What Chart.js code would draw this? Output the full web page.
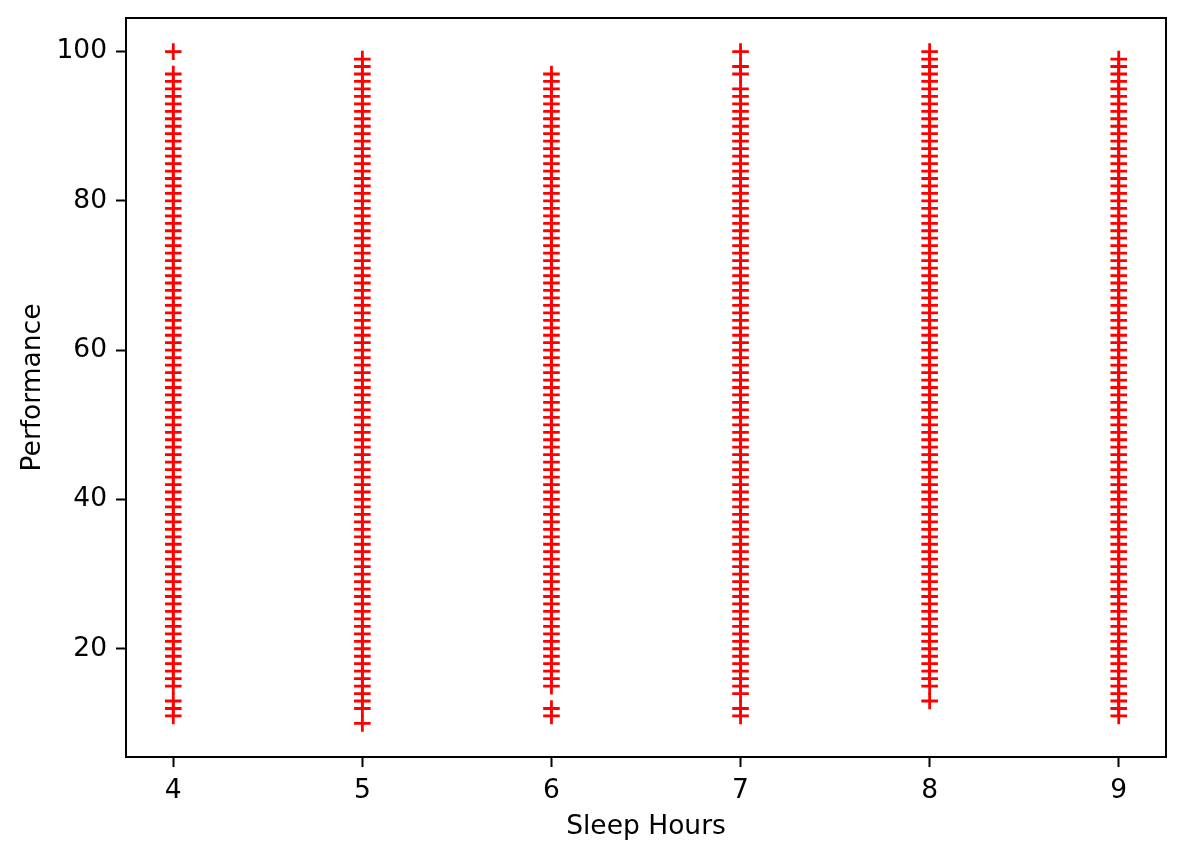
<!DOCTYPE html>
<html>
<head>
<meta charset="utf-8">
<script src="https://cdn.jsdelivr.net/npm/chart.js@4"></script>
<style>
  html, body { margin: 0; padding: 0; background: #fff; }
  #wrap { width: 1186px; height: 858px; }
</style>
</head>
<body>
<div id="wrap"><canvas id="chart" width="1186" height="858"></canvas></div>
<script>
// sleep hours on the x axis, one column of performance scores for each
const sleepHours = [4, 5, 6, 7, 8, 9];
const xTicks = [4, 5, 6, 7, 8, 9];
const yTicks = [20, 40, 60, 80, 100];

const perf4 = [11, 12, 13, 15, 16, 17, 18, 19, 20, 21, 22, 23, 24, 25, 26, 27, 28, 29, 30, 31, 32, 33, 34, 35, 36, 37, 38, 39, 40, 41, 42, 43, 44, 45, 46, 47, 48, 49, 50, 51, 52, 53, 54, 55, 56, 57, 58, 59, 60, 61, 62, 63, 64, 65, 66, 67, 68, 69, 70, 71, 72, 73, 74, 75, 76, 77, 78, 79, 80, 81, 82, 83, 84, 85, 86, 87, 88, 89, 90, 91, 92, 93, 94, 95, 96, 97, 100];
const perf5 = [10, 12, 13, 14, 15, 16, 17, 18, 19, 20, 21, 22, 23, 24, 25, 26, 27, 28, 29, 30, 31, 32, 33, 34, 35, 36, 37, 38, 39, 40, 41, 42, 43, 44, 45, 46, 47, 48, 49, 50, 51, 52, 53, 54, 55, 56, 57, 58, 59, 60, 61, 62, 63, 64, 65, 66, 67, 68, 69, 70, 71, 72, 73, 74, 75, 76, 77, 78, 79, 80, 81, 82, 83, 84, 85, 86, 87, 88, 89, 90, 91, 92, 93, 94, 95, 96, 97, 98, 99];
const perf6 = [11, 12, 15, 16, 17, 18, 19, 20, 21, 22, 23, 24, 25, 26, 27, 28, 29, 30, 31, 32, 33, 34, 35, 36, 37, 38, 39, 40, 41, 42, 43, 44, 45, 46, 47, 48, 49, 50, 51, 52, 53, 54, 55, 56, 57, 58, 59, 60, 61, 62, 63, 64, 65, 66, 67, 68, 69, 70, 71, 72, 73, 74, 75, 76, 77, 78, 79, 80, 81, 82, 83, 84, 85, 86, 87, 88, 89, 90, 91, 92, 93, 94, 95, 96, 97];
const perf7 = [11, 12, 14, 15, 16, 17, 18, 19, 20, 21, 22, 23, 24, 25, 26, 27, 28, 29, 30, 31, 32, 33, 34, 35, 36, 37, 38, 39, 40, 41, 42, 43, 44, 45, 46, 47, 48, 49, 50, 51, 52, 53, 54, 55, 56, 57, 58, 59, 60, 61, 62, 63, 64, 65, 66, 67, 68, 69, 70, 71, 72, 73, 74, 75, 76, 77, 78, 79, 80, 81, 82, 83, 84, 85, 86, 87, 88, 89, 90, 91, 92, 93, 94, 95, 97, 98, 100];
const perf8 = [13, 15, 16, 17, 18, 19, 20, 21, 22, 23, 24, 25, 26, 27, 28, 29, 30, 31, 32, 33, 34, 35, 36, 37, 38, 39, 40, 41, 42, 43, 44, 45, 46, 47, 48, 49, 50, 51, 52, 53, 54, 55, 56, 57, 58, 59, 60, 61, 62, 63, 64, 65, 66, 67, 68, 69, 70, 71, 72, 73, 74, 75, 76, 77, 78, 79, 80, 81, 82, 83, 84, 85, 86, 87, 88, 89, 90, 91, 92, 93, 94, 95, 96, 97, 98, 99, 100];
const perf9 = [11, 12, 13, 14, 15, 16, 17, 18, 19, 20, 21, 22, 23, 24, 25, 26, 27, 28, 29, 30, 31, 32, 33, 34, 35, 36, 37, 38, 39, 40, 41, 42, 43, 44, 45, 46, 47, 48, 49, 50, 51, 52, 53, 54, 55, 56, 57, 58, 59, 60, 61, 62, 63, 64, 65, 66, 67, 68, 69, 70, 71, 72, 73, 74, 75, 76, 77, 78, 79, 80, 81, 82, 83, 84, 85, 86, 87, 88, 89, 90, 91, 92, 93, 94, 95, 96, 97, 98, 99];

const performance = [perf4, perf5, perf6, perf7, perf8, perf9];

// flatten into {x, y} points
const points = [];
sleepHours.forEach((h, i) => {
  performance[i].forEach(p => points.push({ x: h, y: p }));
});

const FONT = 'DejaVu Sans';
const FS = 26.5;
Chart.defaults.font.family = FONT;
Chart.defaults.color = '#000';

// black frame round the plot area, like matplotlib spines
const frame = {
  id: 'frame',
  afterDraw(chart) {
    const a = chart.chartArea;
    const ctx = chart.ctx;
    ctx.save();
    ctx.strokeStyle = '#000';
    ctx.lineWidth = 2;
    ctx.strokeRect(a.left, a.top, a.right - a.left, a.bottom - a.top);
    ctx.restore();
  }
};

new Chart(document.getElementById('chart'), {
  type: 'scatter',
  data: {
    datasets: [{
      data: points,
      pointStyle: 'cross',
      pointRadius: 8.3,
      pointHoverRadius: 8.3,
      borderColor: '#ff0000',
      backgroundColor: '#ff0000',
      pointBorderWidth: 2.8
    }]
  },
  options: {
    responsive: false,
    animation: false,
    layout: { padding: { top: 18, right: 20, left: 0, bottom: 0 } },
    plugins: { legend: { display: false }, tooltip: { enabled: false } },
    scales: {
      x: {
        type: 'linear',
        min: 3.75,
        max: 9.25,
        afterBuildTicks: axis => { axis.ticks = xTicks.map(v => ({ value: v })); },
        afterFit: axis => { axis.height = 101; axis.paddingLeft = 0; axis.paddingRight = 0; },
        grid: { drawOnChartArea: false, color: '#000', tickLength: 10, tickWidth: 2 },
        border: { display: false },
        ticks: { font: { size: FS }, padding: 8, maxRotation: 0 },
        title: { display: true, text: 'Sleep Hours', font: { size: FS }, padding: { top: 0, bottom: 15 } }
      },
      y: {
        type: 'linear',
        min: 5.5,
        max: 104.5,
        afterBuildTicks: axis => { axis.ticks = yTicks.map(v => ({ value: v })); },
        afterFit: axis => { axis.width = 126; axis.paddingTop = 0; axis.paddingBottom = 0; },
        grid: { drawOnChartArea: false, color: '#000', tickLength: 10, tickWidth: 2 },
        border: { display: false },
        ticks: { font: { size: FS }, padding: 9 },
        title: { display: true, text: 'Performance', font: { size: FS }, padding: { top: 17, bottom: 0 } }
      }
    }
  },
  plugins: [frame]
});
</script>
</body>
</html>
